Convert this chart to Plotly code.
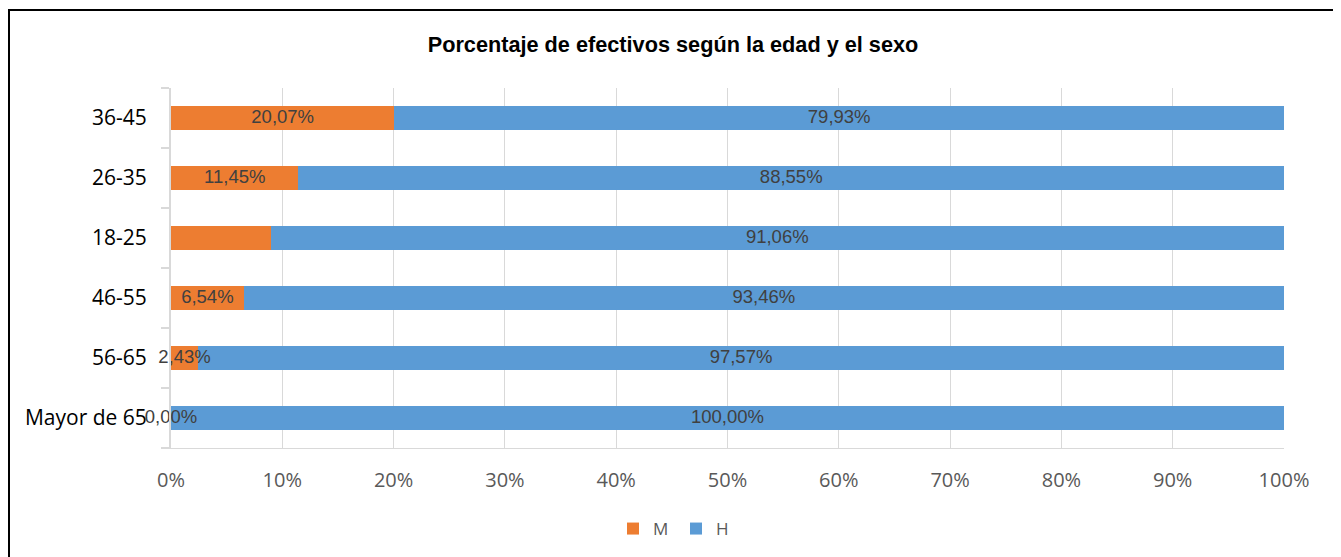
import plotly.graph_objects as go

categories = ["Mayor de 65", "56-65", "46-55", "18-25", "26-35", "36-45"]
m_values = [0.00, 2.43, 6.54, 8.94, 11.45, 20.07]
h_values = [100.00, 97.57, 93.46, 91.06, 88.55, 79.93]
m_labels = ["0,00%", "2,43%", "6,54%", "", "11,45%", "20,07%"]
h_labels = ["100,00%", "97,57%", "93,46%", "91,06%", "88,55%", "79,93%"]
x_ticks = [0, 10, 20, 30, 40, 50, 60, 70, 80, 90, 100]
x_ticktext = [f"{v}%" for v in x_ticks]
title = "Porcentaje de efectivos según la edad y el sexo"

ORANGE = "#ED7D31"
BLUE = "#5B9BD5"
GRID = "#D9D9D9"

# the page body has an 8px margin, so figure coords = screen coords - 8
OFF = 8
W, H = 1341 - OFF, 557 - OFF
L, R, T, B = 171 - OFF, 1284 - OFF, 88 - OFF, 448 - OFF

fig = go.Figure()
fig.add_trace(go.Bar(name="M", y=categories, x=m_values, orientation="h",
                     marker=dict(color=ORANGE, line=dict(width=0))))
fig.add_trace(go.Bar(name="H", y=categories, x=h_values, orientation="h",
                     marker=dict(color=BLUE, line=dict(width=0))))

label_font = dict(family="Liberation Sans, Arial", size=18.5, color="#404040")
fig.add_trace(go.Scatter(x=[v / 2 for v in m_values], y=categories, mode="text",
                         text=m_labels, textfont=label_font, showlegend=False,
                         hoverinfo="skip", cliponaxis=False))
fig.add_trace(go.Scatter(x=[m + h / 2 for m, h in zip(m_values, h_values)], y=categories,
                         mode="text", text=h_labels, textfont=label_font,
                         showlegend=False, hoverinfo="skip", cliponaxis=False))

pw, ph = R - L, B - T

fig.update_layout(
    width=W, height=H,
    margin=dict(l=L, r=W - R, t=T, b=H - B, autoexpand=False),
    barmode="stack", bargap=0.6,
    paper_bgcolor="white", plot_bgcolor="white",
    title=dict(text=title, x=(673 - OFF) / W, xanchor="center",
               y=1 - (44 - OFF) / H, yanchor="middle",
               font=dict(family="Liberation Sans, Arial", size=21.7, color="black",
                         weight="bold")),
    legend=dict(orientation="h", x=(676 - 171) / pw, xanchor="center",
                y=(448 - 529) / ph, yanchor="middle",
                font=dict(family="Open Sans", size=17, color="#595959"),
                traceorder="normal", itemwidth=30, entrywidth=18,
                entrywidthmode="pixels"),
    showlegend=True,
)
fig.update_xaxes(range=[0, 100], tickvals=x_ticks, ticktext=x_ticktext,
                 showgrid=True, gridcolor=GRID, gridwidth=1,
                 showline=True, linecolor=GRID, linewidth=1,
                 zeroline=False, ticks="", ticklabelstandoff=14,
                 tickfont=dict(family="Open Sans", size=20, color="#595959"),
                 fixedrange=True)
fig.update_yaxes(categoryorder="array", categoryarray=categories,
                 showgrid=False, showline=True, linecolor=GRID, linewidth=2,
                 ticks="outside", tickson="boundaries", ticklen=8, tickcolor=GRID,
                 tickwidth=2, ticklabelstandoff=18,
                 tickfont=dict(family="Open Sans", size=21, color="black"),
                 fixedrange=True)

fig.add_shape(type="rect", xref="paper", yref="paper",
              x0=(1 - L) / pw, x1=(1331 - L) / pw,
              y0=(B - (H + 10)) / ph, y1=(B - 2) / ph,
              line=dict(color="black", width=2), fillcolor="rgba(0,0,0,0)", layer="above")

fig.write_html("out.html")
